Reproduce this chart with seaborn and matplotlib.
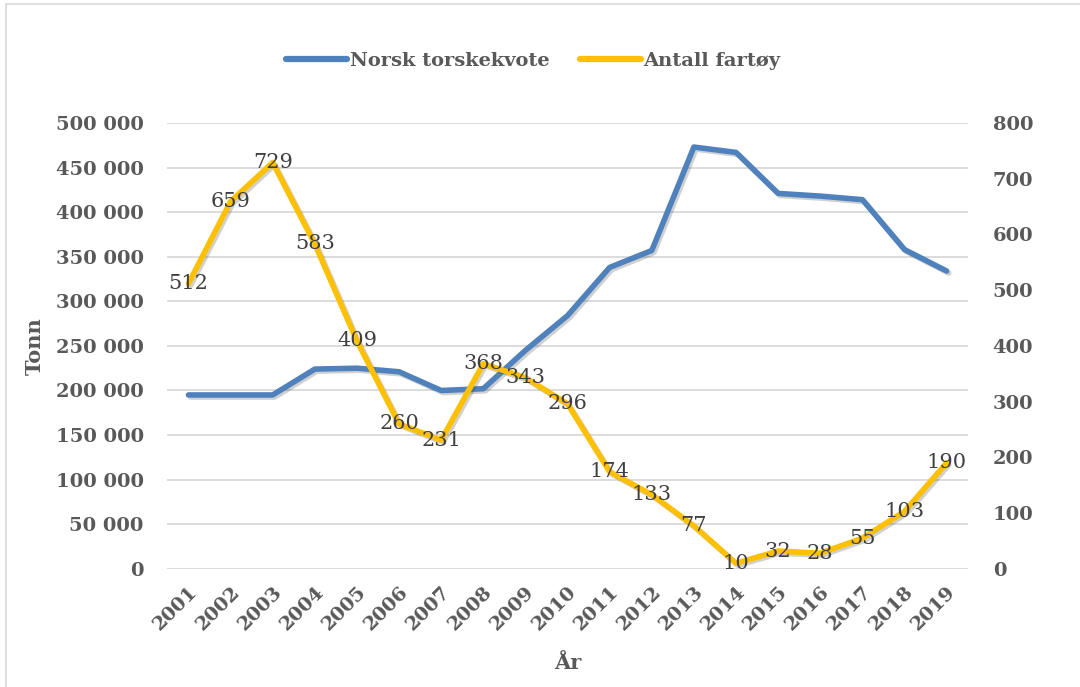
import numpy as np
import pandas as pd
import matplotlib
matplotlib.use("Agg")
import matplotlib.pyplot as plt
import matplotlib.patheffects as pe
from matplotlib.lines import Line2D
import seaborn as sns

# Data
years = [str(y) for y in range(2001, 2020)]
kvote = [195000, 195000, 195000, 224000, 225000, 221000, 200000, 202000, 245000, 284000,
         338000, 357000, 473000, 467000, 421000, 418000, 414000, 358000, 334000]
fartoy = [512, 659, 729, 583, 409, 260, 231, 368, 343, 296,
          174, 133, 77, 10, 32, 28, 55, 103, 190]
left_ticks = list(range(0, 500001, 50000))
right_ticks = list(range(0, 801, 100))

BLUE = "#4F81BD"
GOLD = "#FFC000"
GREY = "#595959"
FS = 14

sns.set_style("white")
plt.rcParams['font.family'] = ['DejaVu Serif']

df = pd.DataFrame({"x": np.arange(len(years)), "kvote": kvote, "fartoy": fartoy})

fig = plt.figure(figsize=(10.8, 6.87), dpi=100)
ax = fig.add_axes([0.155, 0.172, 0.741, 0.649])
ax2 = ax.twinx()

shadow = [pe.SimpleLineShadow(offset=(1.5, -1.5), alpha=0.25, shadow_color="#444444"), pe.Normal()]

sns.lineplot(data=df, x="x", y="kvote", ax=ax, color=BLUE, lw=4,
             solid_capstyle="round", solid_joinstyle="round", path_effects=shadow)
sns.lineplot(data=df, x="x", y="fartoy", ax=ax2, color=GOLD, lw=4,
             solid_capstyle="round", solid_joinstyle="round", path_effects=shadow)

for i, v in enumerate(fartoy):
    ax2.text(i, v, str(v), ha="center", va="center", fontsize=15, color="#404040", zorder=5)

ax.set_xlim(-0.5, len(years) - 0.5)
ax.set_ylim(0, 500000)
ax2.set_ylim(0, 800)
ax.set_yticks(left_ticks)
ax.set_yticklabels([f"{t:,}".replace(",", " ") for t in left_ticks])
ax2.set_yticks(right_ticks)
ax.set_xticks(range(len(years)))
ax.set_xticklabels(years, rotation=45, ha="right", rotation_mode="anchor")
ax2.set_ylabel("")

ax.grid(axis="y", color="#D9D9D9", lw=1.3)
ax.grid(axis="x", visible=False)
ax2.grid(False)
for a in (ax, ax2):
    for s in a.spines.values():
        s.set_visible(False)
    a.tick_params(length=0, labelsize=FS, labelcolor=GREY)
    for lab in a.get_xticklabels() + a.get_yticklabels():
        lab.set_fontweight("bold")
ax.tick_params(axis="y", pad=17)
ax.tick_params(axis="x", pad=10)
ax2.tick_params(axis="y", pad=18)

ax.set_xlabel("År", fontsize=FS + 1, fontweight="bold", color=GREY, labelpad=14)
ax.set_ylabel("Tonn", fontsize=FS + 1, fontweight="bold", color=GREY, labelpad=8)

handles = [Line2D([], [], color=BLUE, lw=4.5, solid_capstyle="round"),
           Line2D([], [], color=GOLD, lw=4.5, solid_capstyle="round")]
leg = fig.legend(handles, ["Norsk torskekvote", "Antall fartøy"], loc="center",
                 bbox_to_anchor=(0.494, 0.911), ncol=2, frameon=False, handlelength=3.1,
                 handletextpad=0.15, columnspacing=1.6,
                 prop={"weight": "bold", "size": 14})
for t in leg.get_texts():
    t.set_color(GREY)

# chart area border (top and left edges visible)
fig.add_artist(Line2D([6 / 1080, 1], [1 - 4 / 687, 1 - 4 / 687], transform=fig.transFigure,
                      color="#D9D9D9", lw=1.2))
fig.add_artist(Line2D([6 / 1080, 6 / 1080], [0, 1 - 4 / 687], transform=fig.transFigure,
                      color="#D9D9D9", lw=1.2))

fig.savefig("out.png", dpi=100)
